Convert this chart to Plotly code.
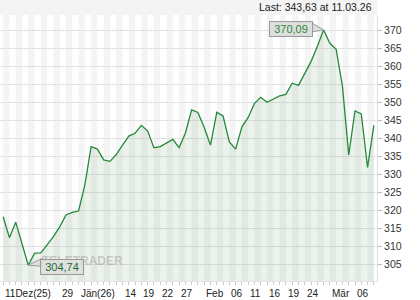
import plotly.graph_objects as go

# ---- data ----
close = [318.2, 312.4, 316.7, 311.0, 304.74, 308.1, 308.2, 310.4, 312.7, 315.4,
         318.7, 319.4, 319.8, 327.0, 337.7, 337.0, 334.0, 333.6, 335.5, 338.1,
         340.6, 341.4, 343.6, 342.0, 337.4, 337.7, 338.8, 339.7, 337.4, 341.4,
         347.9, 347.2, 343.0, 338.1, 347.2, 346.2, 339.0, 337.0, 343.2, 345.8,
         349.7, 351.4, 350.0, 350.8, 351.8, 352.2, 355.3, 354.7, 357.9, 361.3,
         365.5, 370.09, 366.4, 364.7, 354.5, 335.4, 347.6, 346.8, 331.9, 343.63]
x_idx = list(range(len(close)))
tick_labels = ["11Dez(25)", "29", "Jän(26)", "14", "19", "22", "27", "Feb",
               "06", "11", "16", "19", "24", "Mär", "06"]
tick_pos = [0, 9, 12, 19, 22, 25, 28, 32, 36, 39, 42, 45, 48, 52, 56]
y_ticks = list(range(305, 371, 5))
last_text = "Last: 343,63 at 11.03.26"

FONT = "Liberation Sans, Arial, sans-serif"

def fmt(v):
    return f"{v:.2f}".replace(".", ",")

fig = go.Figure()
fig.add_trace(go.Scatter(
    x=x_idx, y=close, mode="lines",
    line=dict(color="#24893a", width=1.3),
    fill="tozeroy", fillcolor="rgba(40,120,60,0.09)",
    hoverinfo="skip"))

shapes = []
for i in range(0, len(close), 2):
    shapes.append(dict(type="rect", xref="x", yref="paper", x0=i, x1=i + 1,
                       y0=0, y1=1, fillcolor="#f4f4f4", line_width=0, layer="below"))
shapes.append(dict(type="rect", xref="paper", yref="paper", x0=0, x1=1,
                   y0=1, y1=1 + 15 / 266, fillcolor="#f4f4f4", line_width=0, layer="below"))

imax = close.index(max(close))
imin = close.index(min(close))
shapes.append(dict(type="path", xref="x", yref="y", xsizemode="pixel", ysizemode="pixel",
                   xanchor=imax, yanchor=close[imax],
                   path="M -13,8 L 0,0 L -13,-2 Z",
                   fillcolor="#dedede", line=dict(color="#9a9a9a", width=1), layer="above"))
shapes.append(dict(type="path", xref="x", yref="y", xsizemode="pixel", ysizemode="pixel",
                   xanchor=imin, yanchor=close[imin],
                   path="M 0,0 L 14,7 L 14,-1 Z",
                   fillcolor="#dedede", line=dict(color="#9a9a9a", width=1), layer="above"))

annotations = []
annotations.append(dict(text="<b>TELETRADER</b>", xref="paper", yref="paper",
                        x=40 / 377, y=(281 - 270) / 266, showarrow=False,
                        font=dict(family=FONT, size=12, color="rgba(150,150,150,0.45)")))
annotations.append(dict(text=fmt(close[imax]), x=imax, y=close[imax], xref="x", yref="y",
                        showarrow=False, xshift=-33, yshift=0.5,
                        bgcolor="#dedede", bordercolor="#9a9a9a", borderwidth=1, borderpad=1,
                        width=40, height=12,
                        font=dict(family=FONT, size=11, color="#2a8a3a")))
annotations.append(dict(text=fmt(close[imin]), x=imin, y=close[imin], xref="x", yref="y",
                        showarrow=False, xshift=33.5, yshift=-1.3,
                        bgcolor="rgba(222,222,222,0.85)", bordercolor="#9a9a9a",
                        borderwidth=1, borderpad=1, width=40, height=12,
                        font=dict(family=FONT, size=11, color="#1f6a30")))
annotations.append(dict(text=last_text, xref="paper", yref="paper", x=1, y=1,
                        xanchor="right", yanchor="middle", xshift=-3, yshift=8,
                        showarrow=False, font=dict(family=FONT, size=10.5, color="#222")))
for lab, pos in zip(tick_labels, tick_pos):
    annotations.append(dict(text=lab, x=pos, y=0, xref="x", yref="paper",
                            xanchor="left", yanchor="top", xshift=0, yshift=-5,
                            showarrow=False, font=dict(family=FONT, size=10, color="#222")))

fig.update_layout(
    width=420, height=300,
    margin=dict(l=0, r=43, t=15, b=19),
    paper_bgcolor="white", plot_bgcolor="white",
    showlegend=False,
    shapes=shapes, annotations=annotations,
    xaxis=dict(range=[-0.5, 59.5], showgrid=False, zeroline=False,
               tickvals=x_idx, ticks="outside", ticklen=3, tickcolor="#c8c8c8",
               showticklabels=False, showline=True, linecolor="#e4e4e4", fixedrange=True),
    yaxis=dict(side="right", range=[300.36, 374.25], tickvals=y_ticks,
               gridcolor="#e2e2e2", gridwidth=1, zeroline=False,
               ticks="outside", ticklen=4, tickcolor="#bbbbbb",
               showline=True, linecolor="#dddddd",
               tickfont=dict(family=FONT, size=10.5, color="#333"), fixedrange=True),
)

fig.write_html("out.html")
